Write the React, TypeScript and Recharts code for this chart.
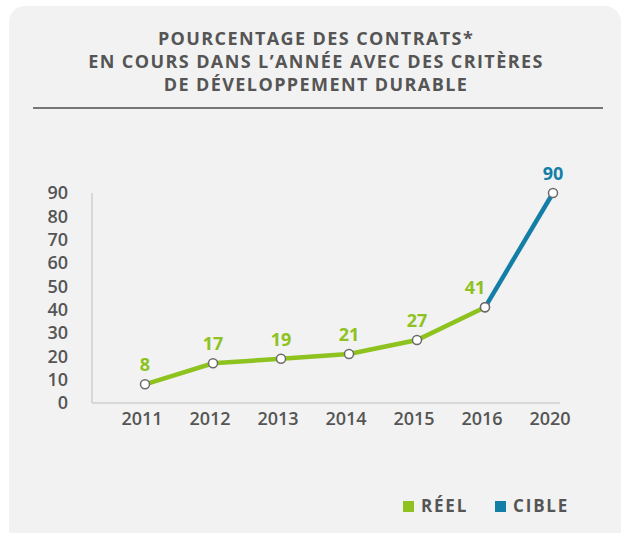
import React from 'react';
import { LineChart, Line, XAxis, YAxis, LabelList, Legend } from 'recharts';

const years = ['2011', '2012', '2013', '2014', '2015', '2016', '2020'];
const reel = [8, 17, 19, 21, 27, 41, null];
const cible = [null, null, null, null, null, 41, 90];
const yTicks = [0, 10, 20, 30, 40, 50, 60, 70, 80, 90];
const titleLines = [
  'POURCENTAGE DES CONTRATS*',
  'EN COURS DANS L\u2019ANNÉE AVEC DES CRITÈRES',
  'DE DÉVELOPPEMENT DURABLE',
];
const seriesNames = ['RÉEL', 'CIBLE'];

const GREEN = '#8dc21f';
const BLUE = '#137fa7';
const TEXT = '#555555';
const FONT = '"Open Sans", Roboto, sans-serif';

const data = years.map((y, i) => ({ year: y, reel: reel[i], cible: cible[i] }));

const makeLabel = (color: string, shiftLast: boolean) => (props: any) => {
  const { x, y, value, index } = props;
  if (value === null || value === undefined) return null;
  const isLastReel = shiftLast && index === reel.filter((v) => v !== null).length - 1;
  return (
    <text
      x={x + (isLastReel ? -10 : 0)}
      y={y - 13}
      textAnchor="middle"
      fill={color}
      fontSize={18}
      fontWeight={700}
      fontFamily={FONT}
    >
      {value}
    </text>
  );
};

const Dot = (props: any) => {
  const { cx, cy, value } = props;
  if (value === null || value === undefined || cx == null || cy == null) return null;
  return <circle cx={cx} cy={cy} r={4.5} fill="#ffffff" stroke="#6b6b6b" strokeWidth={1.5} />;
};

const LegendContent = (props: any) => {
  const payload = [...(props.payload || [])].sort(
    (a: any, b: any) => seriesNames.indexOf(a.value) - seriesNames.indexOf(b.value)
  );
  return (
    <div style={{ display: 'flex', alignItems: 'center', fontFamily: FONT }}>
      {payload.map((p: any, i: number) => (
        <div key={i} style={{ display: 'flex', alignItems: 'center', marginRight: i === 0 ? 27 : 0 }}>
          <div style={{ width: 11, height: 11, background: p.color, marginRight: 7 }} />
          <span style={{ color: TEXT, fontSize: 17, fontWeight: 700, lineHeight: '20px', letterSpacing: 1.8 }}>
            {p.value}
          </span>
        </div>
      ))}
    </div>
  );
};

export default function App() {
  return (
    <div style={{ position: 'absolute', left: 0, top: 0, width: 623, height: 533, background: '#ffffff', overflow: 'hidden' }}>
      <div
        style={{
          position: 'absolute',
          left: 9,
          top: 6,
          width: 612,
          height: 540,
          background: '#f2f2f2',
          borderRadius: 16,
        }}
      />
      <div
        style={{
          position: 'absolute',
          left: 0,
          top: 27,
          width: 632,
          textAlign: 'center',
          fontFamily: FONT,
          fontWeight: 700,
          fontSize: 18,
          lineHeight: '23px',
          letterSpacing: 1.4,
          color: TEXT,
        }}
      >
        {titleLines.map((t, i) => (
          <div key={i}>{t}</div>
        ))}
      </div>
      <div style={{ position: 'absolute', left: 33, top: 107, width: 570, height: 2, background: '#777777' }} />
      <div style={{ position: 'absolute', left: 0, top: 0 }}>
        <LineChart
          width={623}
          height={533}
          data={data}
          margin={{ top: 193, right: 63, bottom: 80, left: 0 }}
        >
          <XAxis
            dataKey="year"
            type="category"
            padding={{ left: 53, right: 7 }}
            axisLine={{ stroke: '#cfcfcf', strokeWidth: 1.5 }}
            tickLine={false}
            tickMargin={3}
            height={30}
            tick={{ fill: TEXT, fontSize: 18, fontWeight: 600, fontFamily: FONT, dx: -3 }}
            interval={0}
          />
          <YAxis
            domain={[0, 90]}
            ticks={yTicks}
            width={92}
            axisLine={{ stroke: '#cfcfcf', strokeWidth: 1.5 }}
            tickLine={false}
            tickMargin={18}
            interval={0}
            tick={{ fill: TEXT, fontSize: 18, fontWeight: 600, fontFamily: FONT }}
          />
          <Line
            dataKey="reel"
            name={seriesNames[0]}
            stroke={GREEN}
            strokeWidth={4.5}
            type="linear"
            dot={<Dot />}
            activeDot={false}
            isAnimationActive={false}
            connectNulls={false}
          >
            <LabelList dataKey="reel" content={makeLabel(GREEN, true)} />
          </Line>
          <Line
            dataKey="cible"
            name={seriesNames[1]}
            stroke={BLUE}
            strokeWidth={4.5}
            type="linear"
            dot={<Dot />}
            activeDot={false}
            isAnimationActive={false}
            connectNulls={false}
          >
            <LabelList
              dataKey="cible"
              content={(p: any) => (p.index === years.length - 1 ? makeLabel(BLUE, false)(p) : null)}
            />
          </Line>
          <Legend
            content={<LegendContent />}
            wrapperStyle={{ position: 'absolute', left: 403, top: 496, width: 220, bottom: 'auto' }}
          />
        </LineChart>
      </div>
    </div>
  );
}
